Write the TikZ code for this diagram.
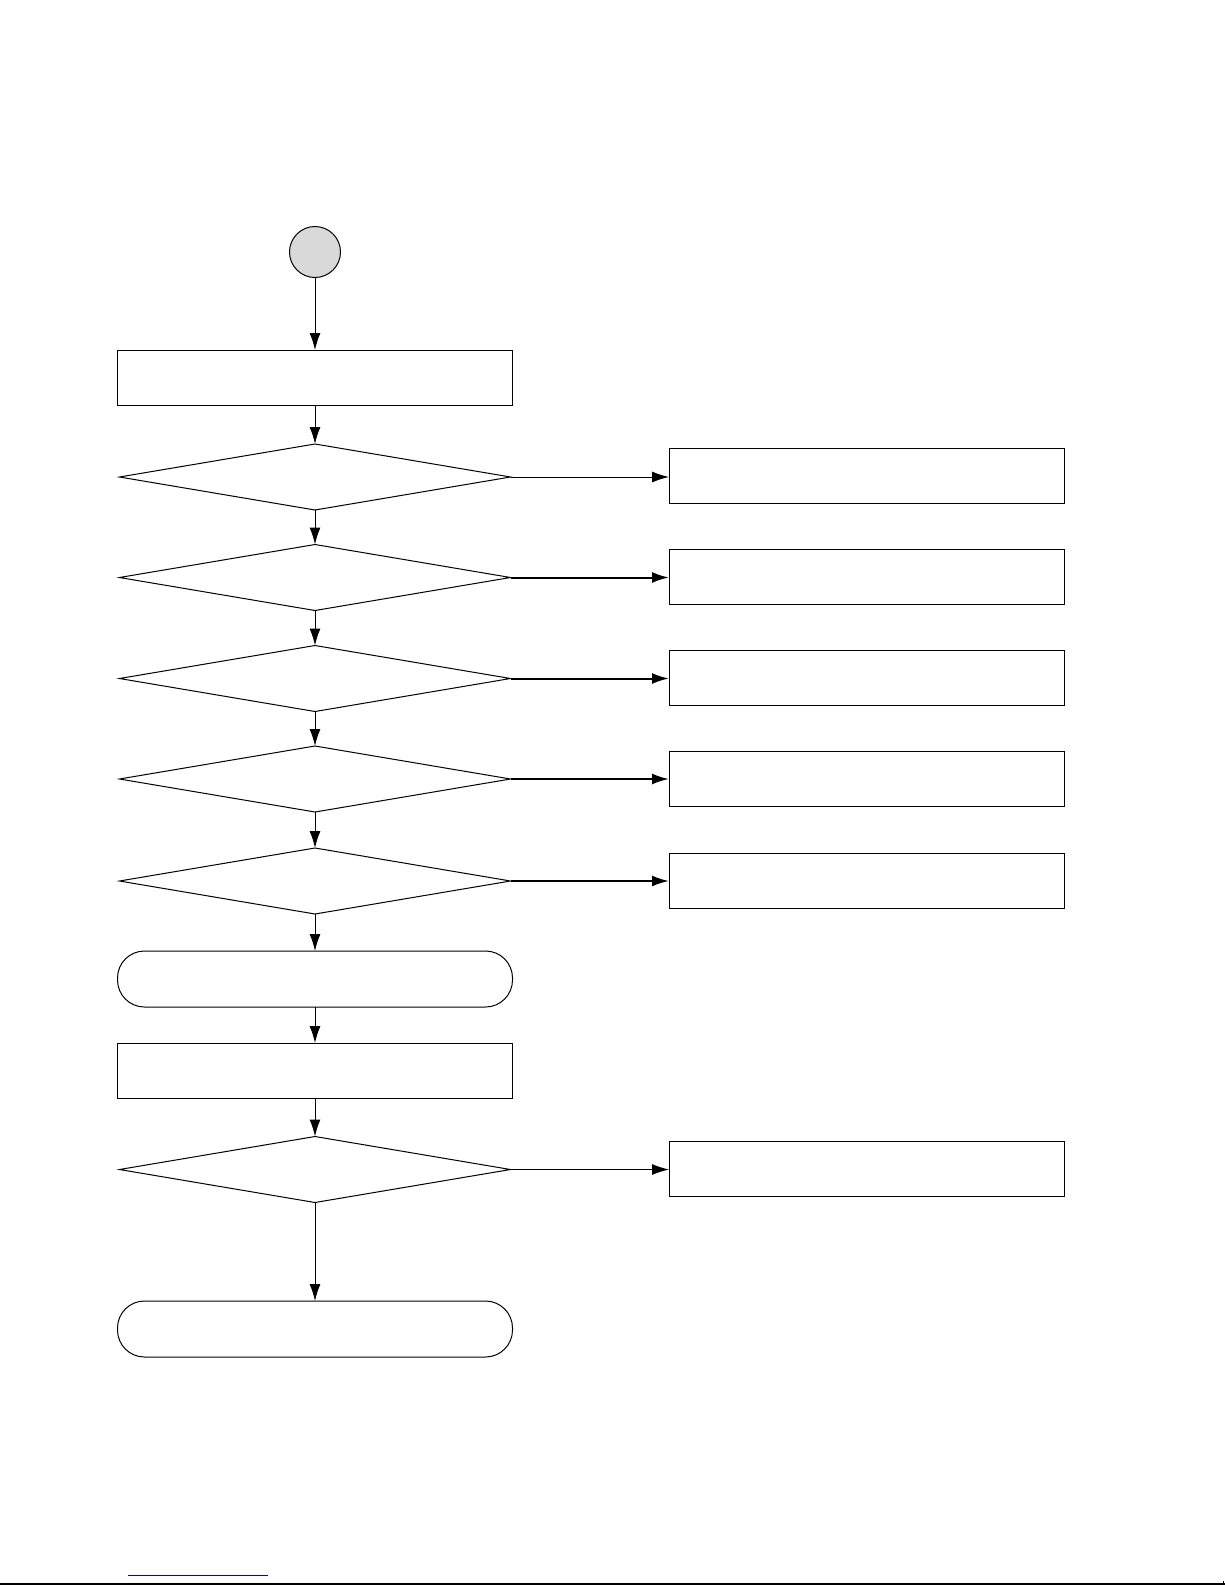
\documentclass[tikz,border=0pt]{standalone}
\usetikzlibrary{shapes.geometric,arrows.meta}
\definecolor{startgray}{RGB}{217,217,217}
\definecolor{linkblue}{RGB}{0,0,204}
\tikzset{
  procbox/.style={draw, line width=1pt, rectangle, minimum width=395pt, minimum height=55pt, inner sep=0pt, outer sep=0pt},
  termbox/.style={draw, line width=1pt, rectangle, rounded corners=27pt, minimum width=395pt, minimum height=56pt, inner sep=0pt, outer sep=0pt},
  decbox/.style={draw, line width=1pt, diamond, aspect=6, minimum width=391pt, minimum height=66pt, inner sep=0pt, outer sep=0pt},
  startnode/.style={draw, line width=1pt, circle, fill=startgray, minimum size=51pt, inner sep=0pt, outer sep=0pt},
  flow/.style={line width=1pt, -{Latex[length=17pt,width=11pt]}},
  flowthick/.style={line width=2pt, -{Latex[length=17pt,width=11pt]}}
}
\begin{document}
\begin{tikzpicture}[x=1pt,y=-1pt]
\useasboundingbox (0,0) rectangle (1225,1585);
\node[startnode] (s) at (315,252) {};
\node[procbox] (b1) at (315,377.5) {};
\node[decbox] (d1) at (315,477) {};
\node[decbox] (d2) at (315,577.5) {};
\node[decbox] (d3) at (315,678.5) {};
\node[decbox] (d4) at (315,779) {};
\node[decbox] (d5) at (315,881) {};
\node[termbox] (t1) at (315,979) {};
\node[procbox] (b2) at (315,1070.5) {};
\node[decbox] (d6) at (315,1169.5) {};
\node[termbox] (t2) at (315,1329) {};
\node[procbox] (r1) at (866.5,475.5) {};
\node[procbox] (r2) at (866.5,577) {};
\node[procbox] (r3) at (866.5,678) {};
\node[procbox] (r4) at (866.5,779) {};
\node[procbox] (r5) at (866.5,881) {};
\node[procbox] (r6) at (866.5,1168.5) {};
\draw[flow] (s) -- (b1);
\draw[flow] (b1) -- (d1);
\draw[flow] (d1) -- (d2);
\draw[flow] (d2) -- (d3);
\draw[flow] (d3) -- (d4);
\draw[flow] (d4) -- (d5);
\draw[flow] (d5) -- (t1);
\draw[flow] (t1) -- (b2);
\draw[flow] (b2) -- (d6);
\draw[flow] (d6) -- (t2);
\draw[flow] (d1.east) -- (r1.west |- d1.east);
\draw[flowthick] (d2.east) -- (r2.west |- d2.east);
\draw[flowthick] (d3.east) -- (r3.west |- d3.east);
\draw[flowthick] (d4.east) -- (r4.west |- d4.east);
\draw[flowthick] (d5.east) -- (r5.west |- d5.east);
\draw[flow] (d6.east) -- (r6.west |- d6.east);
\draw[line width=1.6pt] (0,1584) -- (1225,1584);
\draw[line width=0.8pt] (1223,1584) -- (1223,1581);
\draw[line width=1.2pt, linkblue] (128,1575.5) -- (268,1575.5);
\end{tikzpicture}
\end{document}
